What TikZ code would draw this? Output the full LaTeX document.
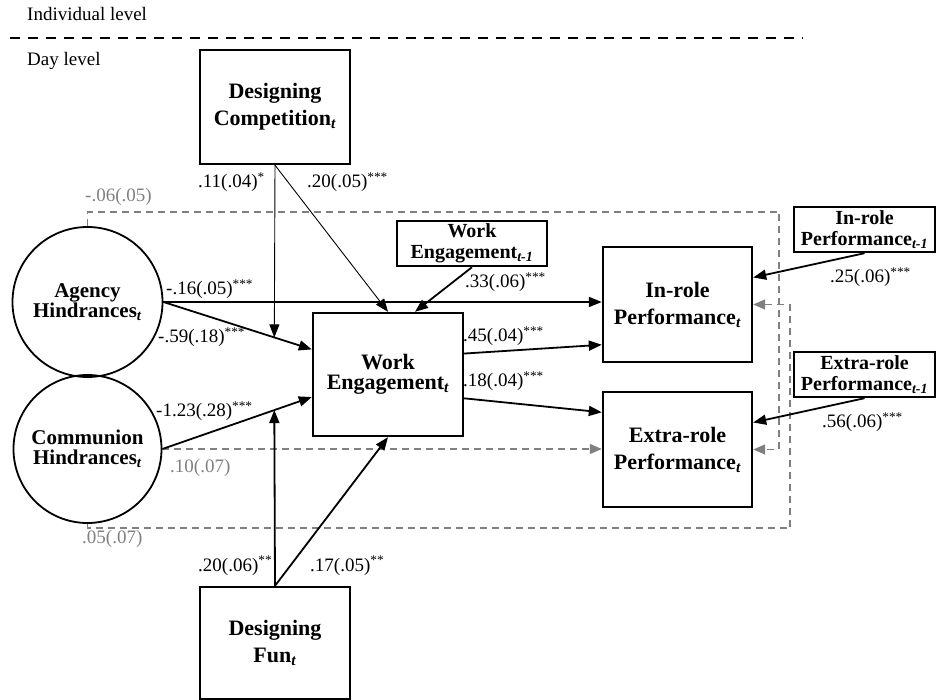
\documentclass[tikz,border=0pt]{standalone}
\usepackage{fontspec}
\setmainfont{Liberation Serif}
\usetikzlibrary{arrows.meta,calc}
\definecolor{dgray}{RGB}{128,128,128}
\begin{document}
\begin{tikzpicture}[x=1pt,y=-1pt,
  bigbox/.style={draw,line width=2.4pt,inner sep=0pt,align=center,font=\bfseries\fontsize{22}{27}\selectfont},
  webox/.style={draw,line width=2.4pt,inner sep=0pt,align=center,font=\bfseries\fontsize{22}{20}\selectfont},
  smallbox/.style={draw,line width=2.4pt,inner sep=0pt,align=center,font=\bfseries\fontsize{20}{21}\selectfont},
  hcircle/.style={draw,circle,line width=1.8pt,inner sep=0pt,align=center,font=\bfseries\fontsize{21}{20}\selectfont},
  lbl/.style={font=\fontsize{19}{21}\selectfont,inner sep=0pt,anchor=base west},
  glbl/.style={lbl,text=dgray},
  arr/.style={line width=1.8pt,-{Triangle[length=13pt,width=10pt]}},
  thinarr/.style={line width=0.9pt,-{Triangle[length=13pt,width=10pt]}},
  gdash/.style={draw=dgray,line width=1.5pt,dash pattern=on 7pt off 5pt,-{Triangle[length=12pt,width=10pt]}}
]
\useasboundingbox (0,0) rectangle (937,700);

% level labels
\node[lbl] (indiv) at (27,21) {Individual level};
\node[lbl] (day) at (27,66) {Day level};
\draw[line width=1.5pt,dash pattern=on 10pt off 8pt] (10,38) -- (803,38);

% nodes
\node[bigbox,minimum width=150pt,minimum height=114pt] (DC) at (275,107) {Designing\\Competition\textsubscript{\textit{t}}};
\node[webox,minimum width=150pt,minimum height=123pt] (WEt) at (388,374.5) {Work\\Engagement\textsubscript{\textit{t}}};
\node[smallbox,minimum width=150pt,minimum height=45pt] (WEp) at (472,243.5) {Work\\Engagement\textsubscript{\textit{t-1}}};
\node[bigbox,minimum width=149pt,minimum height=115pt] (IR) at (677.5,304.5) {In-role\\Performance\textsubscript{\textit{t}}};
\node[bigbox,minimum width=149pt,minimum height=115pt] (ER) at (677.5,449.5) {Extra-role\\Performance\textsubscript{\textit{t}}};
\node[smallbox,minimum width=141pt,minimum height=45pt] (IRp) at (864.5,229.5) {In-role\\Performance\textsubscript{\textit{t-1}}};
\node[smallbox,minimum width=141pt,minimum height=45pt] (ERp) at (864.5,374.5) {Extra-role\\Performance\textsubscript{\textit{t-1}}};
\node[bigbox,minimum width=150pt,minimum height=112pt] (Fun) at (275,643) {Designing\\Fun\textsubscript{\textit{t}}};
\node[hcircle,minimum size=150pt] (AH) at (87.5,302) {Agency\\Hindrances\textsubscript{\textit{t}}};
\node[hcircle,minimum size=148pt] (CH) at (87.5,449) {Communion\\Hindrances\textsubscript{\textit{t}}};

% helper coordinates
\coordinate (weA) at ($(WEt.north west)!0.30!(WEt.south west)$);
\coordinate (weC) at ($(WEt.north west)!0.68!(WEt.south west)$);
\path (AH.east) -- (weA) coordinate[pos=0.7475] (mA);
\path (CH.east) -- (weC) coordinate[pos=0.749] (mC);

% gray dashed paths
\draw[gdash] (AH.north) -- ++(0,-14) -| ($(ER.east)+(26,0)$) -- (ER.east);
\draw[gdash] (CH.south) -- ++(0,4) -| ($(IR.east)+(37,0)$) -- (IR.east);
\draw[gdash] (CH.east) -- (CH.east -| ER.west);

% solid arrows
\draw[arr] (AH.east) -- (AH.east -| IR.west);
\draw[arr] (AH.east) -- (weA);
\draw[arr] (CH.east) -- (weC);
\draw[thinarr] (DC.south) -- (mA);
\draw[thinarr] (DC.south) -- (WEt.north);
\draw[arr] (Fun.north) -- (mC);
\draw[arr] (Fun.north) -- (WEt.south);
\draw[arr] (WEp.south) -- ($(WEt.north)+(27,0)$);
\draw[arr] ($(WEt.north east)!0.333!(WEt.south east)$) -- ($(IR.north west)!0.843!(IR.south west)$);
\draw[arr] ($(WEt.north east)!0.69!(WEt.south east)$) -- ($(ER.north west)!0.183!(ER.south west)$);
\draw[arr] (IRp.south) -- ($(IR.north east)!0.27!(IR.south east)$);
\draw[arr] (ERp.south) -- ($(ER.north east)!0.27!(ER.south east)$);

% labels
\node[lbl] (l1) at (198,188) {.11(.04)\textsuperscript{*}};
\node[lbl] (l2) at (307,188) {.20(.05)\textsuperscript{***}};
\node[glbl] (l3) at (85,202) {-.06(.05)};
\node[lbl] (l4) at (166,295) {-.16(.05)\textsuperscript{***}};
\node[lbl] (l5) at (158,343) {-.59(.18)\textsuperscript{***}};
\node[lbl] (l6) at (156,417) {-1.23(.28)\textsuperscript{***}};
\node[glbl] (l7) at (170,472) {.10(.07)};
\node[glbl] (l8) at (82,543) {.05(.07)};
\node[lbl] (l9) at (198,571) {.20(.06)\textsuperscript{**}};
\node[lbl] (l10) at (310,571) {.17(.05)\textsuperscript{**}};
\node[lbl] (l11) at (465,288) {.33(.06)\textsuperscript{***}};
\node[lbl] (l12) at (463,342) {.45(.04)\textsuperscript{***}};
\node[lbl] (l13) at (463,387) {.18(.04)\textsuperscript{***}};
\node[lbl] (l14) at (830,283) {.25(.06)\textsuperscript{***}};
\node[lbl] (l15) at (822,428) {.56(.06)\textsuperscript{***}};
\end{tikzpicture}
\end{document}
